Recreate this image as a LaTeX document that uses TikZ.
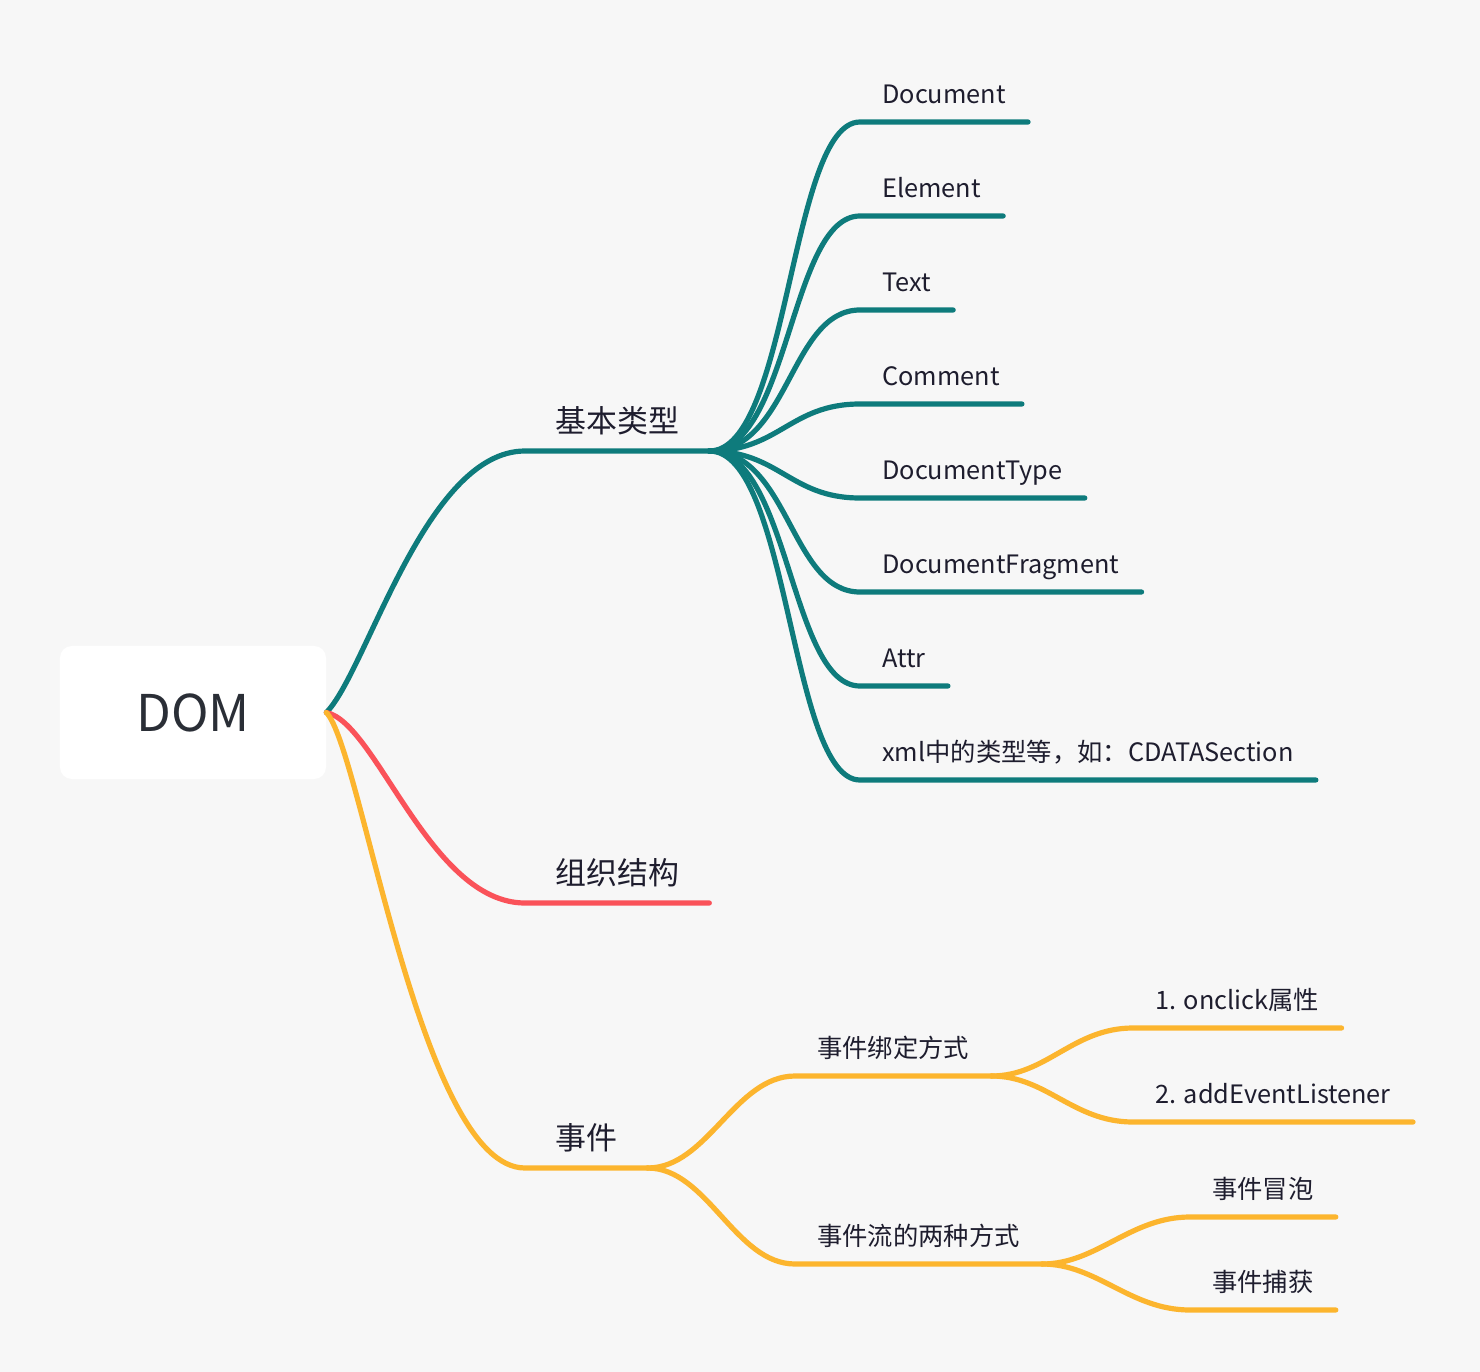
\documentclass[tikz,border=0pt]{standalone}
\usepackage{fontspec}
\setmainfont{Noto Sans CJK SC}
\usetikzlibrary{positioning}
\definecolor{PaperGray}{RGB}{247,247,247}
\definecolor{TealLine}{RGB}{14,123,124}
\definecolor{RedLine}{RGB}{250,82,89}
\definecolor{AmberLine}{RGB}{252,181,46}
\definecolor{InkDark}{RGB}{30,29,46}
\definecolor{RootInk}{RGB}{42,46,54}
\tikzset{
    branch/.style={line width=3.7pt, line cap=round},
    rootbox/.style={rectangle, fill=white, rounded corners=0.3cm, minimum width=6.65cm, minimum height=3.325cm, font=\fontsize{36}{40}\selectfont, text=RootInk},
    maintopic/.style={anchor=south west, inner xsep=0.75cm, inner ysep=0pt, text depth=0.46cm, font=\fontsize{22}{26}\selectfont, text=InkDark},
    subtopic/.style={anchor=south west, inner xsep=0.55cm, inner ysep=0pt, text depth=0.46cm, font=\fontsize{18}{22}\selectfont, text=InkDark},
}
\begin{document}
\begin{tikzpicture}[x=0.025cm, y=-0.025cm]
    \fill[PaperGray] (0,0) rectangle (1480,1372);
    \useasboundingbox (0,0) rectangle (1480,1372);

    % root
    \node[rootbox] (dom) at (193,712.5) {DOM};

    % first level
    \node[maintopic] (basic) at (525,451) {基本类型};
    \node[maintopic] (struct) at (525,903) {组织结构};
    \node[maintopic] (event) at (525,1168) {事件};

    \draw[branch, TealLine] (dom.east) .. controls +(40,-40) and +(-100,0) .. (basic.south west) -- (basic.south east);
    \draw[branch, RedLine] (dom.east) .. controls +(50,10) and +(-95,0) .. (struct.south west) -- (struct.south east);
    \draw[branch, AmberLine] (dom.east) .. controls +(35,35) and +(-105,0) .. (event.south west) -- (event.south east);

    % basic types
    \node[subtopic] (document) at (860,122) {Document};
    \node[subtopic] (element) at (860,216) {Element};
    \node[subtopic] (text) at (860,310) {Text};
    \node[subtopic] (comment) at (860,404) {Comment};
    \node[subtopic] (doctype) at (860,498) {DocumentType};
    \node[subtopic] (fragment) at (860,592) {DocumentFragment};
    \node[subtopic] (attr) at (860,686) {Attr};
    \node[subtopic] (cdata) at (860,780) {xml中的类型等，如：CDATASection};

    \draw[branch, TealLine] (basic.south east) .. controls +(80,0) and +(-70,0) .. (document.south west) -- (document.south east);
    \draw[branch, TealLine] (basic.south east) .. controls +(80,0) and +(-70,0) .. (element.south west) -- (element.south east);
    \draw[branch, TealLine] (basic.south east) .. controls +(80,0) and +(-70,0) .. (text.south west) -- (text.south east);
    \draw[branch, TealLine] (basic.south east) .. controls +(70,0) and +(-70,0) .. (comment.south west) -- (comment.south east);
    \draw[branch, TealLine] (basic.south east) .. controls +(70,0) and +(-70,0) .. (doctype.south west) -- (doctype.south east);
    \draw[branch, TealLine] (basic.south east) .. controls +(80,0) and +(-70,0) .. (fragment.south west) -- (fragment.south east);
    \draw[branch, TealLine] (basic.south east) .. controls +(80,0) and +(-70,0) .. (attr.south west) -- (attr.south east);
    \draw[branch, TealLine] (basic.south east) .. controls +(80,0) and +(-70,0) .. (cdata.south west) -- (cdata.south east);

    % events
    \node[subtopic] (binding) at (795,1076) {事件绑定方式};
    \node[subtopic] (flow) at (795,1264) {事件流的两种方式};

    \draw[branch, AmberLine] (event.south east) .. controls +(60,0) and +(-60,0) .. (binding.south west) -- (binding.south east);
    \draw[branch, AmberLine] (event.south east) .. controls +(60,0) and +(-60,0) .. (flow.south west) -- (flow.south east);

    \node[subtopic] (onclick) at (1133,1028) {1. onclick属性};
    \node[subtopic] (listener) at (1133,1122) {2. addEventListener};
    \node[subtopic] (bubble) at (1190,1217) {事件冒泡};
    \node[subtopic] (capture) at (1190,1310) {事件捕获};

    \draw[branch, AmberLine] (binding.south east) .. controls +(55,0) and +(-60,0) .. (onclick.south west) -- (onclick.south east);
    \draw[branch, AmberLine] (binding.south east) .. controls +(55,0) and +(-60,0) .. (listener.south west) -- (listener.south east);
    \draw[branch, AmberLine] (flow.south east) .. controls +(55,0) and +(-60,0) .. (bubble.south west) -- (bubble.south east);
    \draw[branch, AmberLine] (flow.south east) .. controls +(55,0) and +(-60,0) .. (capture.south west) -- (capture.south east);
\end{tikzpicture}
\end{document}
